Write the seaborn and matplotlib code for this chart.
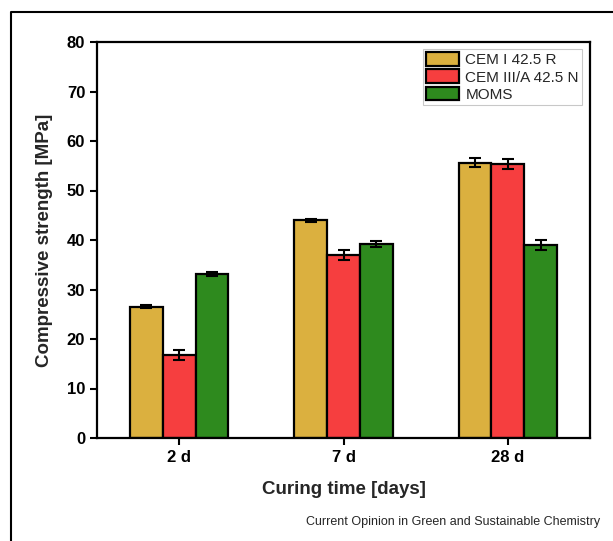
import numpy as np
import pandas as pd
import seaborn as sns
import matplotlib
matplotlib.use("Agg")
import matplotlib.pyplot as plt
from matplotlib.lines import Line2D

# ---- data ----
categories = ["2 d", "7 d", "28 d"]
series = ["CEM I 42.5 R", "CEM III/A 42.5 N", "MOMS"]
cem1 = [26.5, 44.0, 55.6]
cem3 = [16.8, 37.0, 55.3]
moms = [33.2, 39.2, 39.0]
cem1_err = [0.3, 0.3, 0.9]
cem3_err = [1.0, 1.0, 1.0]
moms_err = [0.4, 0.6, 1.1]
colors = ["#DBB03F", "#F63E3F", "#2E8A1E"]

rows = []
for s, vals, errs in zip(series, [cem1, cem3, moms], [cem1_err, cem3_err, moms_err]):
    for c, v, e in zip(categories, vals, errs):
        rows.append({"time": c, "series": s, "value": v, "err": e})
df = pd.DataFrame(rows)

sns.set_theme(style="ticks")
plt.rcParams["font.family"] = ["Liberation Sans", "DejaVu Sans"]

fig = plt.figure(figsize=(6.13, 5.41), dpi=100)
ax = fig.add_axes([97/613, 1-438/541, (590-97)/613, (438-42)/541])

sns.barplot(data=df, x="time", y="value", hue="series", order=categories,
            hue_order=series, palette=colors, width=0.6, errorbar=None,
            edgecolor="black", linewidth=1.6, ax=ax, saturation=1)

# error bars from bar patches
bars = [p for p in ax.patches if p.get_height() > 0]
for p in bars:
    xc = p.get_x() + p.get_width()/2
    h = p.get_height()
    m = df[np.isclose(df["value"], h)]
    if len(m):
        ax.errorbar(xc, h, yerr=m["err"].iloc[0], color="black", capsize=4,
                    elinewidth=1.5, capthick=1.5, fmt="none", zorder=5)

ax.set_ylim(0, 80)
ax.set_yticks(range(0, 81, 10))
ax.set_xlim(-0.5, 2.5)
for sp in ax.spines.values():
    sp.set_visible(True)
    sp.set_linewidth(1.6)
    sp.set_color("black")
ax.tick_params(axis="both", direction="out", width=1.5, length=5, labelsize=12, colors="black")
for lab in ax.get_xticklabels() + ax.get_yticklabels():
    lab.set_fontweight("bold")
ax.set_xlabel("Curing time [days]", fontsize=13.5, fontweight="bold", labelpad=12)
ax.set_ylabel("Compressive strength [MPa]", fontsize=13.5, fontweight="bold", labelpad=10)

leg = ax.legend(loc="upper right", bbox_to_anchor=(0.99, 0.99), fontsize=11,
                frameon=True, fancybox=False, edgecolor="#BBBBBB",
                handlelength=2.2, handleheight=1.0, handletextpad=0.4,
                borderpad=0.2, labelspacing=0.15, borderaxespad=0.2)
leg.get_frame().set_linewidth(0.8)
for h in leg.legend_handles:
    h.set_edgecolor("black")
    h.set_linewidth(1.6)

fig.text(600/613, 1-522/541, "Current Opinion in Green and Sustainable Chemistry",
         ha="right", va="center", fontsize=9)

# outer frame (left and top)
fig.add_artist(Line2D([11/613, 11/613, 1.0], [0.0, 1-12/541, 1-12/541],
                      transform=fig.transFigure, color="black", linewidth=1.5))

fig.savefig("out.png", dpi=100)
